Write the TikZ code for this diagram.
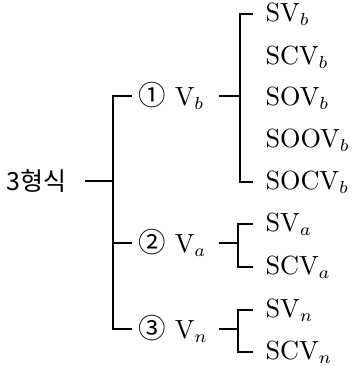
\documentclass[tikz,border=0pt]{standalone}
\usepackage{fontspec}
\newfontfamily\krfont{Noto Sans CJK KR}
\usepackage{tikz}
\usetikzlibrary{positioning}

\begin{document}
\begin{tikzpicture}[
    x=0.4pt, y=-0.4pt,
    conn/.style={line width=0.8pt},
    root/.style={inner xsep=7.2pt, inner ysep=0pt, font=\krfont\fontsize{10}{12}\selectfont},
    verb/.style={inner xsep=2.4pt, inner ysep=0pt, text width=29.6pt, align=left, font=\fontsize{10.5}{12}\selectfont},
    leaf/.style={inner xsep=4.8pt, inner ysep=0pt, font=\fontsize{10.5}{12}\selectfont}
]
    \useasboundingbox (0,0) rectangle (353,366);

    % Root
    \node[root, anchor=east] (hyeong) at (85,181) {3형식};
    \coordinate (j0) at (113,181);

    % Verb types
    \node[verb, anchor=west] (v_b) at (132,96) {{\krfont\fontsize{11}{12}\selectfont ①} V$_b$};
    \node[verb, anchor=west] (v_a) at (132,243) {{\krfont\fontsize{11}{12}\selectfont ②} V$_a$};
    \node[verb, anchor=west] (v_n) at (132,329) {{\krfont\fontsize{11}{12}\selectfont ③} V$_n$};
    \coordinate (b_b) at (240,96);
    \coordinate (b_a) at (238,243);
    \coordinate (b_n) at (238,329);

    % Patterns of V_b
    \node[leaf, anchor=west] (sv_b) at (253,14) {SV$_b$};
    \node[leaf, anchor=west] (scv_b) at (253,57) {SCV$_b$};
    \node[leaf, anchor=west] (sov_b) at (253,98) {SOV$_b$};
    \node[leaf, anchor=west] (soov_b) at (253,140) {SOOV$_b$};
    \node[leaf, anchor=west] (socv_b) at (253,182) {SOCV$_b$};

    % Patterns of V_a
    \node[leaf, anchor=west] (sv_a) at (253,224) {SV$_a$};
    \node[leaf, anchor=west] (scv_a) at (253,267) {SCV$_a$};

    % Patterns of V_n
    \node[leaf, anchor=west] (sv_n) at (253,310) {SV$_n$};
    \node[leaf, anchor=west] (scv_n) at (253,352) {SCV$_n$};

    % Connections
    \draw[conn] (hyeong) -- (j0);
    \draw[conn] (v_b.west) -| (j0) |- (v_n.west);
    \draw[conn] (j0) |- (v_a.west);
    \draw[conn] (v_b.east) -- (b_b);
    \draw[conn] (sv_b.west) -| (b_b) |- (socv_b.west);
    \draw[conn] (v_a.east) -- (b_a);
    \draw[conn] (sv_a.west) -| (b_a) |- (scv_a.west);
    \draw[conn] (v_n.east) -- (b_n);
    \draw[conn] (sv_n.west) -| (b_n) |- (scv_n.west);
\end{tikzpicture}
\end{document}
